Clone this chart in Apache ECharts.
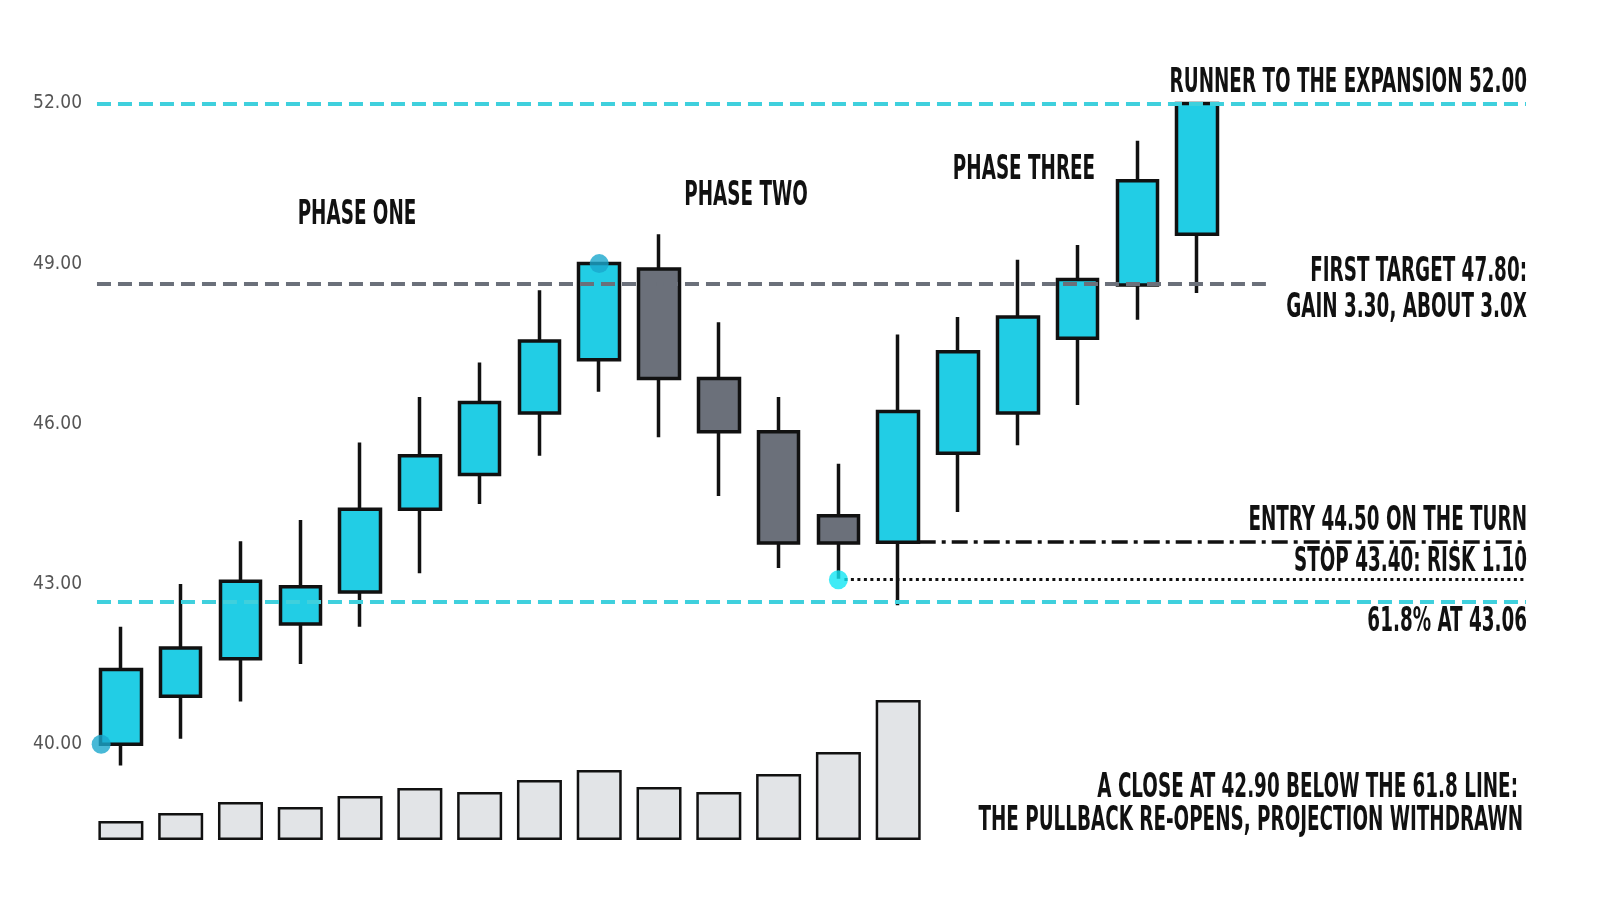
<!DOCTYPE html>
<html>
<head>
<meta charset="utf-8">
<title>Pullback projection</title>
<script src="https://cdn.jsdelivr.net/npm/echarts@6/dist/echarts.min.js"></script>
<style>
  html, body { margin: 0; padding: 0; background: #fff; }
  #chart { width: 1600px; height: 914px; }
</style>
</head>
<body>
<div id="chart"></div>
<script>
// candles: [open, close, low, high]
const candles = [
    [40.00, 41.40, 39.60, 42.20],
    [40.90, 41.80, 40.10, 43.00],
    [41.60, 43.05, 40.80, 43.80],
    [42.25, 42.95, 41.50, 44.20],
    [42.85, 44.40, 42.20, 45.65],
    [44.40, 45.40, 43.20, 46.50],
    [45.05, 46.40, 44.50, 47.15],
    [46.20, 47.55, 45.40, 48.50],
    [47.20, 49.00, 46.60, 49.00],
    [48.90, 46.85, 45.75, 49.55],
    [46.85, 45.85, 44.65, 47.90],
    [45.85, 43.77, 43.30, 46.50],
    [44.28, 43.77, 43.10, 45.25],
    [43.78, 46.23, 42.60, 47.67],
    [45.45, 47.35, 44.35, 48.00],
    [46.20, 48.00, 45.60, 49.07],
    [47.60, 48.70, 46.35, 49.35],
    [48.60, 50.55, 47.95, 51.30],
    [49.55, 52.00, 48.45, 52.00]
];
const volumes = [19, 27, 38, 33, 44, 52, 48, 60, 70, 53, 48, 66, 88, 140];
const slotCount = 24;
const categories = Array.from({ length: slotCount }, (_, i) => String(i + 1));

// levels: [value, fromSlot, toSlot]
const runnerLevel = [52.00, -0.4, 23.5];
const targetLevel = [48.63, -0.4, 19.15];
const entryLevel = [43.80, 13.36, 23.5];
const stopLevel = [43.08, 12.1, 23.5];
const fibLevel = [42.67, -0.4, 23.5];

// marker dots: [slot, price]
const pivotDots = [[-0.33, 40.00], [8, 49.00]];
const stopDot = [[12, 43.08]];

const yTicks = [40, 43, 46, 49, 52];

const phaseLabels = [
    { text: 'PHASE ONE', x: 357, y: 215 },
    { text: 'PHASE TWO', x: 746, y: 196 },
    { text: 'PHASE THREE', x: 1024, y: 170 }
];
const noteLabels = [
    { text: 'RUNNER TO THE EXPANSION 52.00', x: 1527, y: 83 },
    { text: 'FIRST TARGET 47.80:', x: 1527, y: 272 },
    { text: 'GAIN 3.30, ABOUT 3.0X', x: 1527, y: 308 },
    { text: 'ENTRY 44.50 ON THE TURN', x: 1527, y: 521 },
    { text: 'STOP 43.40: RISK 1.10', x: 1527, y: 562 },
    { text: '61.8% AT 43.06', x: 1527, y: 622 },
    { text: 'A CLOSE AT 42.90 BELOW THE 61.8 LINE:', x: 1518, y: 788 },
    { text: 'THE PULLBACK RE-OPENS, PROJECTION WITHDRAWN', x: 1523, y: 821 }
];

const narrow = '"Liberation Sans Narrow", "DejaVu Sans Condensed", "Roboto", sans-serif';
const cyan = '#22cde5';
const slate = '#6b707a';
const ink = '#111111';

const levelLine = (lvl, style) => [
    { coord: [lvl[1], lvl[0]], lineStyle: style },
    { coord: [lvl[2], lvl[0]] }
];

// the reference lettering is very condensed, so squeeze the text horizontally
const textEl = (t) => ({
    type: 'text',
    x: t.x,
    y: t.y,
    scaleX: 0.6,
    z: 100,
    style: {
        text: t.text,
        align: t.x > 1400 ? 'right' : 'center',
        verticalAlign: 'middle',
        fontFamily: narrow,
        fontWeight: 'bold',
        fontSize: 34,
        fill: ink
    }
});

const chart = echarts.init(document.getElementById('chart'));
chart.setOption({
    backgroundColor: '#ffffff',
    animation: false,
    grid: [
        { left: 91, width: 1435, top: 50, height: 801 },
        { left: 91, width: 1435, top: 680, height: 160 }
    ],
    xAxis: [
        { type: 'category', data: categories, gridIndex: 0, show: false },
        { type: 'value', min: -0.5, max: slotCount - 0.5, gridIndex: 0, show: false },
        { type: 'category', data: categories, gridIndex: 1, show: false }
    ],
    yAxis: [
        {
            type: 'value',
            gridIndex: 0,
            min: 38,
            max: 53,
            interval: 1,
            axisLine: { show: false },
            axisTick: { show: false },
            splitLine: { show: false },
            axisLabel: {
                color: '#555',
                fontFamily: narrow,
                fontSize: 19,
                margin: 9,
                formatter: v => (yTicks.indexOf(v) >= 0 ? v.toFixed(2) : '')
            }
        },
        { type: 'value', gridIndex: 1, min: 0, max: 160, show: false }
    ],
    series: [
        {
            type: 'bar',
            xAxisIndex: 2,
            yAxisIndex: 1,
            data: volumes,
            barWidth: 45,
            itemStyle: { color: '#e2e4e7', borderColor: ink, borderWidth: 2.5 },
            z: 2
        },
        {
            type: 'scatter',
            xAxisIndex: 1,
            yAxisIndex: 0,
            data: [],
            z: 1,
            markLine: {
                silent: true,
                symbol: 'none',
                label: { show: false },
                data: [
                    levelLine(runnerLevel, { color: '#3fd0dd', width: 4, type: [14, 7] }),
                    levelLine(targetLevel, { color: slate, width: 4, type: [14, 7] }),
                    levelLine(entryLevel, { color: ink, width: 3.5, type: [16, 6, 4, 6] }),
                    levelLine(stopLevel, { color: ink, width: 3, type: [3, 3.5] }),
                    levelLine(fibLevel, { color: '#3fd0dd', width: 4, type: [14, 7] })
                ]
            }
        },
        {
            type: 'candlestick',
            xAxisIndex: 0,
            yAxisIndex: 0,
            data: candles,
            barWidth: 41,
            clip: false,
            z: 3,
            itemStyle: {
                color: cyan,
                color0: slate,
                borderColor: ink,
                borderColor0: ink,
                borderWidth: 3.5
            }
        },
        {
            type: 'scatter',
            xAxisIndex: 1,
            yAxisIndex: 0,
            data: pivotDots,
            symbolSize: 19,
            itemStyle: { color: '#1aa8cd' },
            z: 5
        },
        {
            type: 'scatter',
            xAxisIndex: 1,
            yAxisIndex: 0,
            data: stopDot,
            symbolSize: 19,
            itemStyle: { color: '#12e6f4' },
            z: 5
        }
    ],
    graphic: phaseLabels.map(textEl).concat(noteLabels.map(textEl))
});
</script>
</body>
</html>
